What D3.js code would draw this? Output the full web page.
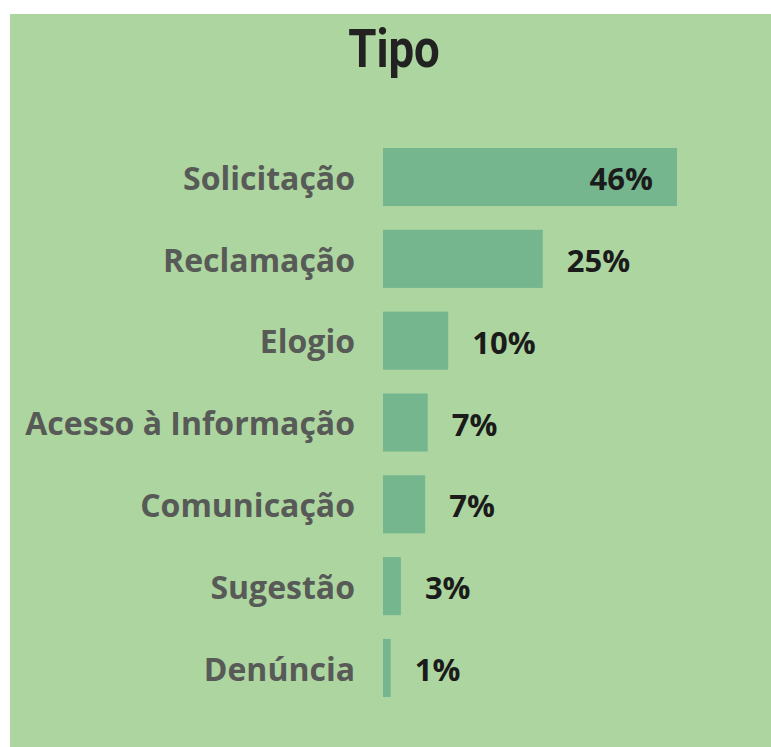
<!DOCTYPE html>
<html>
<head>
<meta charset="utf-8">
<script src="https://cdn.jsdelivr.net/npm/d3@7"></script>
<style>
  html, body { margin: 0; padding: 0; background: #ffffff; }
  svg { display: block; }
</style>
</head>
<body>
<script>
const WIDTH  = 771;
const HEIGHT = 747;

// Data (share of each type, in %)
const categories = ["Solicitação", "Reclamação", "Elogio", "Acesso à Informação", "Comunicação", "Sugestão", "Denúncia"];
const shares     = [46.0, 25.0, 10.2, 7.0, 6.6, 2.8, 1.2];
const title      = "Tipo";

const BG_COLOR   = "#add5a0";
const BAR_COLOR  = "#76b68f";
const CAT_COLOR  = "#575a56";
const VAL_COLOR  = "#1b1b1b";
const FONT       = "'Open Sans', 'DejaVu Sans', sans-serif";

const dataset = categories.map((c, i) => ({ cat: c, value: shares[i] }));

function setUpChart() {
  const svg = d3.select("body").append("svg")
      .attr("width", WIDTH)
      .attr("height", HEIGHT);

  // green card
  svg.append("rect")
      .attr("x", 10).attr("y", 14)
      .attr("width", WIDTH - 10).attr("height", HEIGHT - 14)
      .attr("fill", BG_COLOR);

  // title, squeezed horizontally to look like a condensed face
  svg.append("g")
      .attr("transform", "translate(394,67) scale(0.86,1)")
    .append("text")
      .attr("id", "title")
      .attr("text-anchor", "middle")
      .style("font-family", "Roboto, 'Liberation Sans', sans-serif")
      .style("font-size", "53px")
      .style("font-weight", "bold")
      .attr("fill", "#222222")
      .text(title);

  return svg;
}

function setScale() {
  const xScale = d3.scaleLinear()
      .domain([0, d3.max(shares)])
      .range([383, 677]);
  const yScale = d3.scaleBand()
      .domain(categories)
      .range([148, 697])
      .paddingInner(0.29)
      .paddingOuter(0);
  return [xScale, yScale];
}

function addAxis(svg, xScale, yScale) {
  const yAxis = d3.axisLeft(yScale).tickSize(0).tickPadding(0);
  const g = svg.append("g")
      .attr("id", "y-axis")
      .attr("transform", "translate(355,0)")
      .call(yAxis);
  g.select(".domain").remove();
  g.selectAll("text")
      .attr("dy", "0.4em")
      .attr("fill", CAT_COLOR)
      .style("font-family", FONT)
      .style("font-size", "32px")
      .style("font-weight", "bold");
}

function drawChart(svg, xScale, yScale) {
  const x0 = xScale(0);
  svg.selectAll("rect.bar")
      .data(dataset)
      .enter()
      .append("rect").attr("class", "bar")
        .attr("x", x0)
        .attr("y", d => yScale(d.cat))
        .attr("width", d => xScale(d.value) - x0)
        .attr("height", yScale.bandwidth())
        .attr("fill", BAR_COLOR);

  // value labels: inside end when the bar is wide enough, else outside
  const fmt = d => Math.round(d) + "%";
  svg.selectAll("text.val")
      .data(dataset)
      .enter()
      .append("text").attr("class", "val")
        .attr("x", d => {
          const w = xScale(d.value) - x0;
          return w > 200 ? xScale(d.value) - 24 : xScale(d.value) + 24;
        })
        .attr("text-anchor", d => (xScale(d.value) - x0 > 200 ? "end" : "start"))
        .attr("y", d => yScale(d.cat) + yScale.bandwidth() / 2)
        .attr("dy", "0.42em")
        .attr("fill", VAL_COLOR)
        .style("font-family", FONT)
        .style("font-size", "31px")
        .style("font-weight", "bold")
        .text(d => fmt(d.value));
}

const canvas = setUpChart();
const [xScale, yScale] = setScale();
drawChart(canvas, xScale, yScale);
addAxis(canvas, xScale, yScale);
</script>
</body>
</html>
